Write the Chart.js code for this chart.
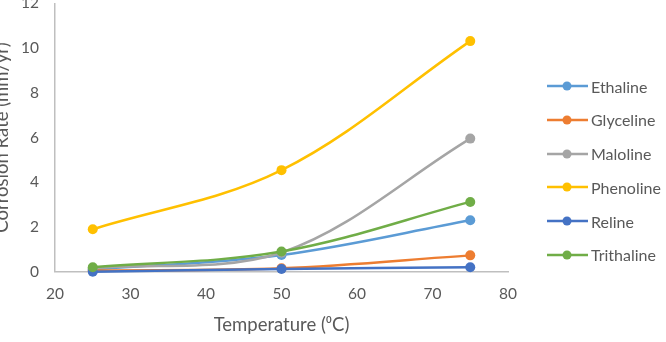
<!DOCTYPE html>
<html>
<head>
<meta charset="utf-8">
<script src="https://cdn.jsdelivr.net/npm/chart.js@4"></script>
<style>
    body { margin: 0; background: #fff; }
    #wrap { position: relative; width: 666px; height: 342px; overflow: hidden; background: #fff; }
    #chart { position: absolute; left: -16px; top: -22px; }
    #legend { position: absolute; left: 547px; top: 76px; font-family: Lato, sans-serif; font-size: 16px; color: #595959; }
    .row { display: flex; align-items: center; height: 20px; margin-bottom: 13.8px; }
    .row svg { margin-right: 3px; }
</style>
</head>
<body>
<div id="wrap">
    <canvas id="chart" width="682" height="364"></canvas>
    <div id="legend"></div>
</div>
<script>
const temperatures = [25, 50, 75];
const seriesNames = ["Ethaline", "Glyceline", "Maloline", "Phenoline", "Reline", "Trithaline"];
const ethaline = [0.1, 0.75, 2.3];
const glyceline = [0.05, 0.15, 0.73];
const maloline = [0.15, 0.85, 5.95];
const phenoline = [1.9, 4.54, 10.31];
const reline = [0.0, 0.12, 0.2];
const trithaline = [0.2, 0.9, 3.12];
const xTicks = [20, 30, 40, 50, 60, 70, 80];
const yTicks = [0, 2, 4, 6, 8, 10, 12];

const seriesValues = [ethaline, glyceline, maloline, phenoline, reline, trithaline];
const seriesColors = ['#5b9bd5', '#ed7d31', '#a5a5a5', '#ffc000', '#4472c4', '#70ad47'];
const textColor = '#595959';
const axisColor = '#bfbfbf';

// excel draws the last series on top, chart.js the first: flip with order
const datasets = seriesNames.map((name, i) =>
{
    return {
        label: name,
        data: temperatures.map((t, j) => ({x: t, y: seriesValues[i][j]})),
        borderColor: seriesColors[i],
        backgroundColor: seriesColors[i],
        borderWidth: 2.5,
        pointRadius: 5,
        pointBorderWidth: 0,
        tension: 0.35,
        clip: false,
        order: seriesNames.length - i
    };
});

new Chart(document.getElementById('chart'), {
    type: 'line',
    data: {datasets: datasets},
    options: {
        responsive: false,
        animation: false,
        devicePixelRatio: 1,
        layout: {padding: {left: 0, top: 0, right: 158, bottom: 0}},
        plugins: {legend: {display: false}, tooltip: {enabled: false}},
        scales: {
            x: {
                type: 'linear',
                min: xTicks[0],
                max: xTicks[xTicks.length - 1],
                afterBuildTicks: (scale) => { scale.ticks = xTicks.map(v => ({value: v})); },
                afterFit: (scale) => { scale.height = 70.3; },
                grid: {display: false, drawTicks: false},
                border: {display: true, color: axisColor, width: 1.5},
                ticks: {color: textColor, padding: 13, font: {family: 'Lato', size: 15.5}},
                title: {
                    display: true,
                    text: 'Temperature (\u2070C)',
                    color: textColor,
                    font: {family: 'Lato', size: 18.5},
                    padding: {top: 0, bottom: 6}
                }
            },
            y: {
                min: yTicks[0],
                max: yTicks[yTicks.length - 1],
                afterBuildTicks: (scale) => { scale.ticks = yTicks.map(v => ({value: v})); },
                afterFit: (scale) => { scale.width = 71; },
                grid: {display: false, drawTicks: false},
                border: {display: true, color: axisColor, width: 1.5},
                ticks: {color: textColor, padding: 16, font: {family: 'Lato', size: 15.5}},
                title: {
                    display: true,
                    text: 'Corrosion Rate (mm/yr)',
                    color: textColor,
                    font: {family: 'Lato', size: 18.5},
                    padding: {top: 7, bottom: 0}
                }
            }
        }
    }
});

// legend like excel: short line with a dot, then the name
const legend = document.getElementById('legend');
seriesNames.forEach((name, i) =>
{
    const row = document.createElement('div');
    row.className = 'row';
    row.innerHTML = '<svg width="41" height="12"><line x1="0" y1="6" x2="41" y2="6" stroke="' + seriesColors[i] +
        '" stroke-width="2.5"/><circle cx="20" cy="6" r="4.5" fill="' + seriesColors[i] + '"/></svg>';
    const label = document.createElement('span');
    label.innerText = name;
    row.appendChild(label);
    legend.appendChild(row);
});
</script>
</body>
</html>
